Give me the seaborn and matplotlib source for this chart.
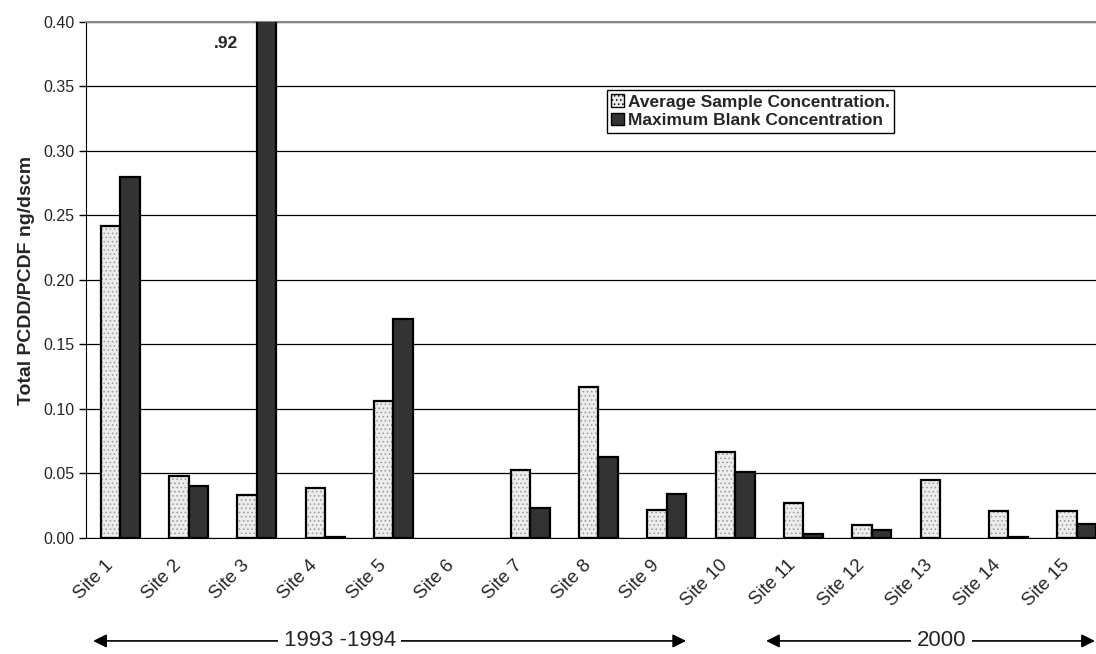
import numpy as np
import pandas as pd
import matplotlib
matplotlib.use("Agg")
import matplotlib.pyplot as plt
from matplotlib.patches import Rectangle, FancyArrowPatch
from matplotlib.transforms import ScaledTranslation
import seaborn as sns

# values (ng/dscm)
sites = ["Site 1", "Site 2", "Site 3", "Site 4", "Site 5", "Site 6", "Site 7", "Site 8",
         "Site 9", "Site 10", "Site 11", "Site 12", "Site 13", "Site 14", "Site 15"]
avg_sample = [0.242, 0.048, 0.033, 0.039, 0.106, 0.0, 0.053, 0.117,
              0.022, 0.067, 0.027, 0.010, 0.045, 0.021, 0.021]
max_blank = [0.280, 0.040, 0.92, 0.001, 0.170, 0.0, 0.023, 0.063,
             0.034, 0.051, 0.003, 0.006, 0.0, 0.001, 0.011]
series_names = ["Average Sample Concentration.", "Maximum Blank Concentration"]
yticks = [0.00, 0.05, 0.10, 0.15, 0.20, 0.25, 0.30, 0.35, 0.40]

df = pd.DataFrame({
    "site": sites * 2,
    "value": avg_sample + max_blank,
    "series": [series_names[0]] * len(sites) + [series_names[1]] * len(sites),
})

sns.set_style("white")
plt.rcParams["font.family"] = ["Liberation Sans", "DejaVu Sans"]
plt.rcParams["hatch.linewidth"] = 0.6

fig = plt.figure(figsize=(10.96, 6.54), dpi=100)
ax = fig.add_axes([0.0785, 0.1774, 0.935, 0.789])

sns.barplot(data=df, x="site", y="value", hue="series", order=sites,
            hue_order=series_names, palette=["#ececec", "#333333"],
            width=0.57, edgecolor="black", linewidth=1.6, ax=ax,
            legend=False, zorder=3)

# dotted texture on the light bars: grey hatch, then black outline on top
for bar in ax.containers[0]:
    bar.set_hatch("....")
    bar.set_edgecolor("#9a9a9a")
    bar.set_linewidth(0)
    if bar.get_height() > 0:
        ax.add_patch(Rectangle(bar.get_xy(), bar.get_width(), bar.get_height(),
                               fill=False, edgecolor="black", linewidth=1.6, zorder=4))
# zero values draw nothing
for cont in ax.containers:
    for bar in cont:
        if bar.get_height() == 0:
            bar.set_visible(False)

ax.set_ylim(0, 0.40)
ax.set_xlim(-0.5, len(sites) - 0.5)
ax.set_yticks(yticks)
ax.set_yticklabels([f"{t:.2f}" for t in yticks], fontsize=11.5)
ax.yaxis.grid(True, color="black", linewidth=0.9, zorder=0)
ax.set_axisbelow(True)

# ticks at category boundaries, labels drawn under the category centres (Excel style)
ax.set_xticks(np.arange(len(sites)))
ax.set_xticklabels([])
ax.set_xticks(np.arange(len(sites)) - 0.5, minor=True)
ax.tick_params(axis="x", which="major", length=0)
ax.tick_params(axis="x", which="minor", length=5, width=1, color="black", direction="out")
ax.tick_params(axis="y", length=5, width=1, color="black", direction="out", left=True)
lab_tr = ax.get_xaxis_transform() + ScaledTranslation(-10 / 100, -25 / 100, fig.dpi_scale_trans)
for i, s in enumerate(sites):
    ax.text(i, 0, s, transform=lab_tr, rotation=45, ha="right", va="center",
            rotation_mode="anchor", fontsize=13.5)

ax.spines["right"].set_visible(False)
ax.spines["top"].set_color("#888888")
ax.spines["top"].set_linewidth(1.5)
ax.spines["left"].set_color("black")
ax.spines["bottom"].set_color("black")

ax.set_xlabel("")
ax.set_ylabel("Total PCDD/PCDF ng/dscm", fontsize=14, fontweight="bold", labelpad=6)

# off-scale value of site 3
ax.text(2 - 0.28, 0.383, ".92", ha="right", va="center", fontsize=12.5, fontweight="bold")

handles = [Rectangle((0, 0), 1, 1, facecolor="#ececec", edgecolor="black", hatch="...."),
           Rectangle((0, 0), 1, 1, facecolor="#333333", edgecolor="black")]
leg = ax.legend(handles, series_names, loc="upper left", bbox_to_anchor=(0.5085, 0.868),
                frameon=True, fancybox=False, edgecolor="black", framealpha=1,
                prop={"weight": "bold", "size": 12.5}, handlelength=0.7, handleheight=0.7,
                handletextpad=0.25, borderpad=0.25, labelspacing=0.2, borderaxespad=0)
leg.get_frame().set_linewidth(1.0)

# period arrows under the axis (figure coordinates)
for x0, x1, label, xt in [(0.085, 0.626, "1993 -1994", 0.310), (0.699, 0.999, "2000", 0.859)]:
    fig.add_artist(FancyArrowPatch(
        (x0, 0.02), (x1, 0.02), transform=fig.transFigure, arrowstyle="<|-|>",
        color="black", lw=1.2, mutation_scale=20, shrinkA=0, shrinkB=0))
    fig.text(xt, 0.02, label, ha="center", va="center", fontsize=16,
             bbox=dict(facecolor="white", edgecolor="none", pad=4))

fig.savefig("out.png", dpi=100)
